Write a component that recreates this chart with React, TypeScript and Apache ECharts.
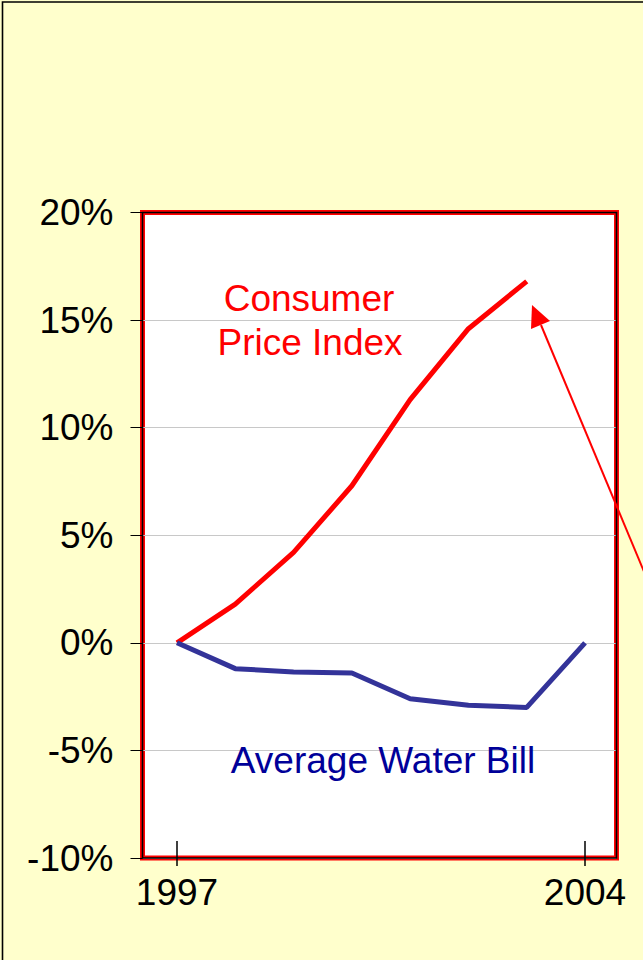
import React, { useEffect, useRef } from "react";
import * as echarts from "echarts";

const years = [1997, 1998, 1999, 2000, 2001, 2002, 2003, 2004];
const cpiValues = [0, 1.8, 4.2, 7.3, 11.3, 14.6, 16.8, null];
const waterBillValues = [0, -1.2, -1.35, -1.4, -2.6, -2.9, -3.0, 0];
const xTickLabels = [1997, 2004];
const yMin = -10;
const yMax = 20;
const yStep = 5;

const FONT = "'Liberation Sans', Arial, sans-serif";

export default function App() {
  const ref = useRef<HTMLDivElement>(null);
  useEffect(() => {
    document.body.style.margin = "0";
    const chart = echarts.init(ref.current!, null, { renderer: "svg" });
    const cpi = years.map((y, i) => [y, cpiValues[i]]).filter((p) => p[1] !== null);
    const water = years.map((y, i) => [y, waterBillValues[i]]);
    const gx = 142.5, gy = 212.5, gw = 474, gh = 645.5;
    chart.setOption({
      animation: false,
      backgroundColor: "#FFFFCC",
      grid: {
        left: gx,
        top: gy,
        width: gw,
        height: gh,
        show: true,
        backgroundColor: "#FFFFFF",
        borderColor: "#FF0000",
        borderWidth: 5,
        z: 0,
      },
      xAxis: [
        {
          type: "value",
          min: 1996.408,
          max: 2004.54,
          position: "bottom",
          axisLine: { show: false, onZero: false },
          splitLine: { show: false },
          axisTick: { show: true, length: 8, customValues: xTickLabels, lineStyle: { color: "#000", width: 1.5 } },
          axisLabel: {
            customValues: xTickLabels,
            margin: 16,
            color: "#000",
            fontSize: 37,
            fontFamily: FONT,
            formatter: (v: number) => String(v),
          },
        },
        {
          type: "value",
          min: 1996.408,
          max: 2004.54,
          position: "bottom",
          axisLine: { show: false, onZero: false },
          splitLine: { show: false },
          axisTick: { show: true, inside: true, length: 17, customValues: xTickLabels, lineStyle: { color: "#000", width: 1.5 } },
          axisLabel: { show: false },
        },
      ],
      yAxis: {
        type: "value",
        min: yMin,
        max: yMax,
        interval: yStep,
        axisLine: { show: false },
        axisTick: { show: true, length: 12, lineStyle: { color: "#000", width: 1 } },
        splitLine: { show: true, lineStyle: { color: "#C8C8C8", width: 1 } },
        axisLabel: {
          margin: 29,
          color: "#000",
          fontSize: 37,
          fontFamily: FONT,
          formatter: (v: number) => v + "%",
        },
      },
      series: [
        {
          type: "line",
          data: cpi,
          showSymbol: false,
          symbol: "none",
          lineStyle: { color: "#FF0000", width: 5 },
          z: 5,
        },
        {
          type: "line",
          data: water,
          showSymbol: false,
          symbol: "none",
          lineStyle: { color: "#333399", width: 5 },
          z: 5,
        },
      ],
      graphic: [
        {
          type: "rect",
          shape: { x: gx, y: gy, width: gw, height: gh },
          style: { fill: "none", stroke: "#000", lineWidth: 1.6 },
          z: 50,
        },
        {
          type: "rect",
          shape: { x: 2.5, y: 2, width: 800, height: 1100 },
          style: { fill: "none", stroke: "#000", lineWidth: 1.6 },
          z: 50,
        },
        {
          type: "text",
          x: 309,
          y: 298,
          style: { text: "Consumer", fill: "#FF0000", font: `37px ${FONT}`, align: "center", verticalAlign: "middle" },
          z: 60,
        },
        {
          type: "text",
          x: 310,
          y: 342,
          style: { text: "Price Index", fill: "#FF0000", font: `37px ${FONT}`, align: "center", verticalAlign: "middle" },
          z: 60,
        },
        {
          type: "text",
          x: 383,
          y: 760,
          style: { text: "Average Water Bill", fill: "#000099", font: `37px ${FONT}`, align: "center", verticalAlign: "middle" },
          z: 60,
        },
        {
          type: "line",
          shape: { x1: 541, y1: 325, x2: 650, y2: 586 },
          style: { stroke: "#FF0000", lineWidth: 2 },
          z: 60,
        },
        {
          type: "polygon",
          shape: { points: [[532, 305], [531, 329], [550, 321]] },
          style: { fill: "#FF0000" },
          z: 60,
        },
      ],
    });
    return () => chart.dispose();
  }, []);
  return <div ref={ref} style={{ position: "absolute", left: 0, top: 0, width: 643, height: 960 }} />;
}
